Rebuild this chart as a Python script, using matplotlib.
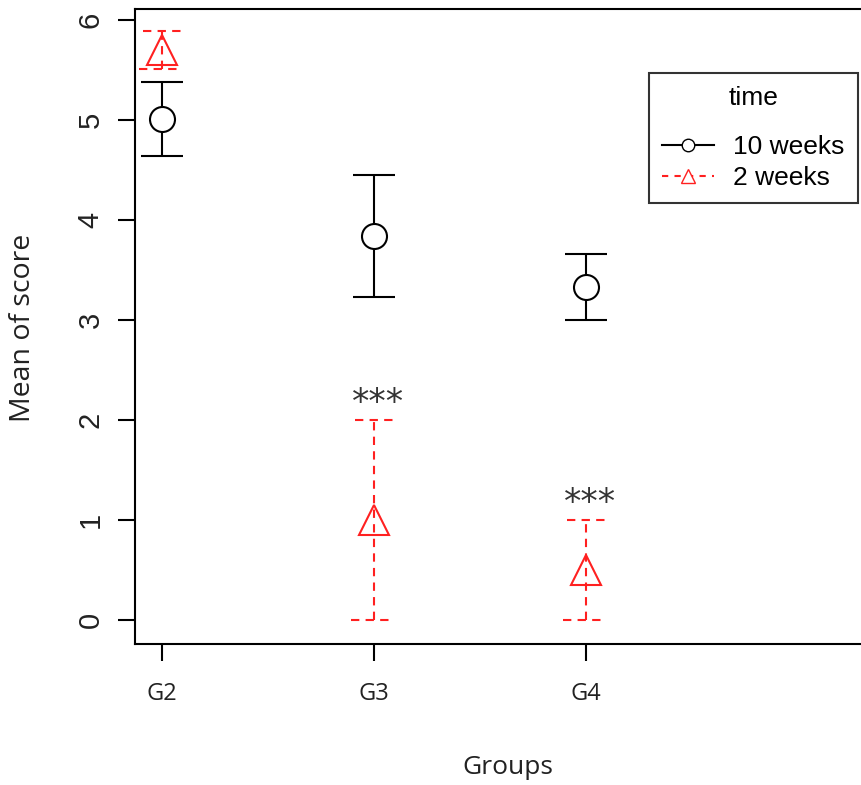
import numpy as np
import matplotlib.pyplot as plt
from matplotlib.lines import Line2D

groups = ["G2", "G3", "G4"]
xpos = np.array([1, 2, 3])

# 10 weeks
mean_10 = np.array([5.01, 3.84, 3.33])
err_10 = np.array([0.37, 0.61, 0.33])
# 2 weeks
mean_2 = np.array([5.7, 1.0, 0.5])
err_2 = np.array([0.19, 1.0, 0.5])

sig = ["", "***", "***"]

fig = plt.figure(figsize=(8.61, 7.85), dpi=100)
ax = fig.add_axes([135/861, (785-644)/785, 1 - 135/861, (644-9)/785])

lw = 1.5
# 10 weeks, black solid
ax.vlines(xpos, mean_10 - err_10, mean_10 + err_10, color="black", lw=lw)
ax.hlines(mean_10 + err_10, xpos - 0.1, xpos + 0.1, color="black", lw=lw)
ax.hlines(mean_10 - err_10, xpos - 0.1, xpos + 0.1, color="black", lw=lw)
ax.plot(xpos, mean_10, "o", ms=18, mfc="white", mec="black", mew=lw, ls="none")

# 2 weeks, red dashed
red = "#ff2020"
dash = (0, (4, 3))
ax.vlines(xpos, mean_2 - err_2, mean_2 + err_2, color=red, lw=lw, linestyles=[dash])
ax.hlines(mean_2 + err_2, xpos - 0.09, xpos + 0.09, color=red, lw=lw, linestyles=[dash])
ax.hlines(mean_2 - err_2, xpos - 0.11, xpos + 0.07, color=red, lw=lw, linestyles=[dash])
ax.plot(xpos, mean_2, "^", ms=21, mfc="none", mec=red, mew=lw, ls="none")

for x, m, e, s in zip(xpos, mean_2, err_2, sig):
    if s:
        ax.text(x + 0.02, m + e + 0.07, s, ha="center", va="baseline",
                fontsize=25, color="#333333", family="DejaVu Sans")

ax.set_xlim(1 - 27/212, 1 + (861 - 162)/212)
ax.set_ylim(-0.24, 6.11)

ax.spines["right"].set_visible(False)
for sp in ["left", "top", "bottom"]:
    ax.spines[sp].set_linewidth(1.5)

ax.set_xticks(xpos)
ax.set_xticklabels(groups, family="Open Sans", fontsize=17, color="#222222")
ax.set_yticks(range(7))
ax.set_yticklabels([str(v) for v in range(7)], family="Liberation Sans",
                   fontsize=21, rotation=90, va="center", color="#222222")
ax.tick_params(axis="both", length=12, width=1.5, direction="out")
ax.tick_params(axis="x", pad=15)
ax.tick_params(axis="y", pad=10)

ax.set_xlabel("Groups", family="Open Sans", fontsize=19, color="#222222", va="center")
ax.set_ylabel("Mean of score", family="Open Sans", fontsize=20.5, color="#222222", va="center")
ax.xaxis.set_label_coords((508 - 135) / 726, (644 - 767) / 635)
ax.yaxis.set_label_coords((23 - 135) / 726, (644 - 328) / 635)

handles = [
    Line2D([], [], color="black", lw=lw, marker="o", ms=9, mfc="white", mec="black"),
    Line2D([], [], color=red, lw=lw, ls=(0, (3, 3)), marker="^", ms=10, mfc="white", mec=red),
]
leg = ax.legend(handles, ["10 weeks", "2 weeks"], title="time",
                loc="upper left", bbox_to_anchor=((649 - 135) / 726, (644 - 73) / 635),
                frameon=True, fancybox=False, edgecolor="black",
                prop={"family": "Liberation Sans", "size": 19},
                title_fontproperties={"family": "Liberation Sans", "size": 19},
                handlelength=1.95, borderpad=0.5, labelspacing=0.25,
                handletextpad=0.75, borderaxespad=0)
leg._legend_box.sep = 18
leg.get_frame().set_linewidth(1.5)

fig.savefig("out.png", dpi=100)
